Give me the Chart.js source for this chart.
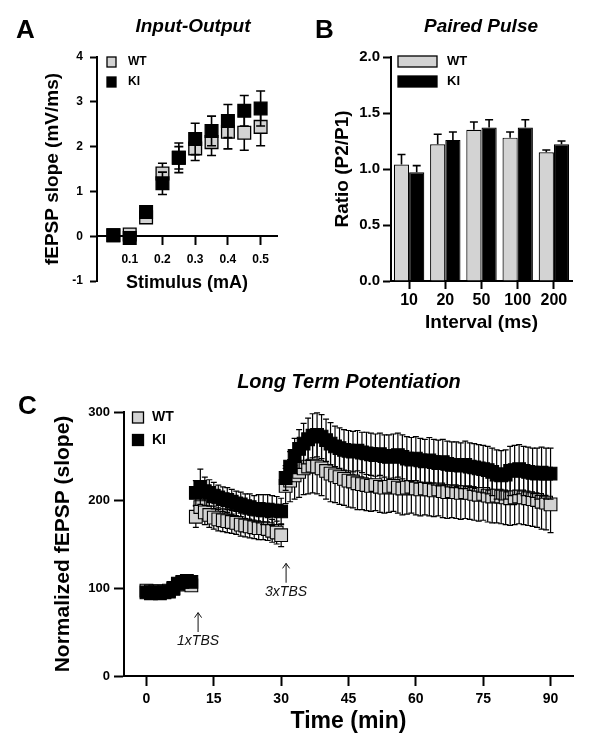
<!DOCTYPE html>
<html><head><meta charset="utf-8">
<script src="https://cdn.jsdelivr.net/npm/chart.js@4.4.1/dist/chart.umd.min.js"></script>
<style>
html,body{margin:0;padding:0;background:#fff;}
body{width:600px;height:750px;position:relative;overflow:hidden;font-family:'Liberation Sans',Arial,sans-serif;}
.box{position:absolute;}
.lbl{position:absolute;line-height:1;white-space:nowrap;color:#000;font-weight:bold;}
.ttl{font-style:italic;text-align:center;width:300px;}
</style></head><body>
<div class="box" style="left:0;top:0;width:300px;height:300px"><canvas id="cA"></canvas></div>
<div class="box" style="left:300px;top:0;width:300px;height:340px"><canvas id="cB"></canvas></div>
<div class="box" style="left:0;top:360px;width:600px;height:390px"><canvas id="cC"></canvas></div>
<div class="lbl" style="left:16px;top:16px;font-size:26px">A</div>
<div class="lbl ttl" style="left:43px;top:16px;font-size:19px">Input-Output</div>
<div class="lbl" style="left:315px;top:16px;font-size:26px">B</div>
<div class="lbl ttl" style="left:331px;top:16px;font-size:19px">Paired Pulse</div>
<div class="lbl" style="left:18px;top:392px;font-size:26px">C</div>
<div class="lbl ttl" style="left:199px;top:371px;font-size:20px">Long Term Potentiation</div>
<script>
// ---------- Panel A: Input-Output ----------
const aStim   = [0.05, 0.1, 0.15, 0.2, 0.25, 0.3, 0.35, 0.4, 0.45, 0.5];
const aWT     = [0.02, 0.04, 0.42, 1.40, 1.75, 1.96, 2.10, 2.33, 2.31, 2.44];
const aWTerr  = [0.03, 0.05, 0.08, 0.23, 0.25, 0.27, 0.30, 0.38, 0.39, 0.42];
const aKI     = [0.02, -0.04, 0.54, 1.18, 1.75, 2.17, 2.35, 2.57, 2.80, 2.85];
const aKIerr  = [0.03, 0.05, 0.08, 0.25, 0.33, 0.35, 0.33, 0.37, 0.34, 0.39];
const aXTicks = [0.1, 0.2, 0.3, 0.4, 0.5];

// ---------- Panel B: Paired Pulse ----------
const bIntervals = ['10', '20', '50', '100', '200'];
const bWT    = [1.04, 1.22, 1.35, 1.28, 1.15];
const bWTerr = [0.09, 0.09, 0.07, 0.05, 0.02];
const bKI    = [0.97, 1.26, 1.37, 1.37, 1.22];
const bKIerr = [0.06, 0.07, 0.07, 0.07, 0.03];

// ---------- Panel C: Long Term Potentiation ----------
const ltpTime = [0,1,2,3,4,5,6,7,8,9,10,
  11,12,13,14,15,16,17,18,19,20,21,22,23,24,25,26,27,28,29,30,
  31,32,33,34,35,36,37,38,39,40,41,42,43,44,45,46,47,48,49,50,
  51,52,53,54,55,56,57,58,59,60,61,62,63,64,65,66,67,68,69,70,
  71,72,73,74,75,76,77,78,79,80,81,82,83,84,85,86,87,88,89,90];
const ltpWT = [97,96,96,96,96,97,100,104,106,106,103,
  181,192,186,183,180,178,177,176,175,174,172,171,170,169,168,168,167,165,163,160,
  216,222,228,232,236,238,239,238,236,233,
  230,228,226,224,222,221,219,218,217,216,
  217,215,214,215,216,214,213,214,215,213,
  212,213,212,211,212,210,209,210,209,208,
  209,208,207,206,207,205,204,205,204,203,
  202,203,204,203,202,201,200,198,197,195];
const ltpWTerr = [4,4,4,4,4,4,4,5,5,5,5,
  12,14,14,14,13,13,13,13,13,13,13,13,13,13,13,13,13,13,13,13,
  20,24,27,29,30,31,31,31,31,32,
  32,31,31,30,30,30,30,29,29,29,
  29,29,29,29,29,29,30,30,30,30,
  30,30,30,30,30,30,30,30,30,30,
  30,30,30,30,30,30,30,31,31,31,
  31,31,31,31,31,31,31,31,31,32];
const ltpKI = [95,94,95,94,95,96,99,105,107,108,107,
  208,215,210,208,205,203,201,200,198,196,195,193,192,190,190,189,189,188,188,187,
  225,238,250,258,264,269,273,274,272,268,
  264,261,259,257,256,255,256,254,253,252,
  251,252,250,249,250,251,249,247,246,247,
  245,244,245,243,242,243,241,240,240,239,
  240,238,237,236,235,234,232,229,228,229,
  233,234,235,233,232,231,230,231,230,230];
const ltpKIerr = [4,4,4,4,4,4,4,5,5,5,5,
  14,20,16,15,15,14,14,14,14,14,14,14,15,15,16,17,17,17,16,15,
  14,17,20,22,23,24,25,25,25,24,
  24,23,23,23,23,23,23,23,24,24,
  24,24,24,25,25,25,25,25,25,25,
  25,25,26,26,26,26,26,26,26,26,
  27,27,27,27,27,27,27,28,28,28,
  28,28,28,28,28,28,29,29,29,29];
const cXTicks = [0, 15, 30, 45, 60, 75, 90];

const WT_FILL = '#d3d3d3';
const KI_FILL = '#000000';
const FONT = "'Liberation Sans', Arial, sans-serif";

Chart.defaults.font.family = FONT;
Chart.defaults.font.weight = 'bold';
Chart.defaults.color = '#000';
Chart.defaults.animation = false;
Chart.defaults.plugins.legend.display = false;
Chart.defaults.plugins.tooltip.enabled = false;

function drawErrors(chart, args) {
  const ds = chart.data.datasets[args.index];
  if (!ds.errors) return;
  const meta = args.meta;
  const yScale = chart.scales[meta.yAxisID];
  const ctx = chart.ctx;
  ctx.save();
  ctx.strokeStyle = '#000';
  ctx.lineWidth = ds.errLineWidth || 1.5;
  meta.data.forEach((el, i) => {
    const d = ds.data[i];
    const v = (typeof d === 'object') ? d.y : d;
    const e = ds.errors[i];
    const x = el.x;
    const yTop = yScale.getPixelForValue(v + e);
    const yBot = ds.errorUpOnly ? yScale.getPixelForValue(v) : yScale.getPixelForValue(v - e);
    const c = ds.capHalf || 4;
    ctx.beginPath();
    ctx.moveTo(x, yBot); ctx.lineTo(x, yTop);
    ctx.moveTo(x - c, yTop); ctx.lineTo(x + c, yTop);
    if (!ds.errorUpOnly) { ctx.moveTo(x - c, yBot); ctx.lineTo(x + c, yBot); }
    ctx.stroke();
  });
  ctx.restore();
}
const errorBarPlugin = {
  id: 'errorBars',
  beforeDatasetDraw(chart, args) { const ds = chart.data.datasets[args.index]; if (!ds.errAfter) drawErrors(chart, args); },
  afterDatasetDraw(chart, args) { const ds = chart.data.datasets[args.index]; if (ds.errAfter) drawErrors(chart, args); }
};

const boxLegendPlugin = {
  id: 'boxLegend',
  afterDraw(chart, args, o) {
    if (!o || o.x === undefined) return;
    const ctx = chart.ctx;
    ctx.save();
    chart.data.datasets.forEach((ds, i) => {
      const cy = o.y + i * o.gap;
      ctx.fillStyle = ds.backgroundColor;
      ctx.strokeStyle = '#000';
      ctx.lineWidth = o.lw;
      ctx.fillRect(o.x, cy - o.h / 2, o.w, o.h);
      ctx.strokeRect(o.x, cy - o.h / 2, o.w, o.h);
      ctx.fillStyle = '#000';
      ctx.font = 'bold ' + o.size + 'px ' + FONT;
      ctx.textAlign = 'left';
      ctx.textBaseline = 'middle';
      ctx.fillText(ds.label, o.tx, cy);
    });
    ctx.restore();
  }
};

const tbsPlugin = {
  id: 'tbsMarks',
  afterDatasetsDraw(chart, args, o) {
    if (!o || !o.marks) return;
    const ctx = chart.ctx, xs = chart.scales.x, ys = chart.scales.y;
    o.marks.forEach(m => {
      const px = xs.getPixelForValue(m.x);
      const yTip = ys.getPixelForValue(m.tip), yTail = ys.getPixelForValue(m.tail), yText = ys.getPixelForValue(m.textY);
      ctx.save();
      ctx.strokeStyle = '#111'; ctx.lineWidth = 1;
      ctx.beginPath();
      ctx.moveTo(px, yTail); ctx.lineTo(px, yTip);
      ctx.moveTo(px - 3.5, yTip + 5); ctx.lineTo(px, yTip); ctx.lineTo(px + 3.5, yTip + 5);
      ctx.stroke();
      ctx.font = 'italic 14px ' + FONT;
      ctx.fillStyle = '#111'; ctx.textAlign = 'center'; ctx.textBaseline = 'middle';
      ctx.fillText(m.text, px, yText);
      ctx.restore();
    });
  }
};

function axisStyle(tickLen) {
  return {
    border: { display: true, color: '#000', width: 2 },
    grid: { display: true, drawOnChartArea: false, drawTicks: true, tickLength: tickLen, tickWidth: 2, tickColor: '#000', offset: false }
  };
}

// ---- Chart A ----
new Chart(document.getElementById('cA'), {
  type: 'scatter',
  data: { datasets: [
    { label: 'WT', order: 2, xAxisID: 'x', yAxisID: 'y', data: aStim.map((x, i) => ({ x, y: aWT[i] })), errors: aWTerr,
      backgroundColor: WT_FILL, borderColor: '#000', borderWidth: 1.3, pointStyle: 'rect', pointRadius: 9, capHalf: 4.5, errLineWidth: 1.6 },
    { label: 'KI', order: 1, xAxisID: 'x', yAxisID: 'y', data: aStim.map((x, i) => ({ x, y: aKI[i] })), errors: aKIerr,
      backgroundColor: KI_FILL, borderColor: '#000', borderWidth: 1.3, pointStyle: 'rect', pointRadius: 9, capHalf: 4.5, errLineWidth: 1.6 }
  ]},
  options: {
    responsive: true, maintainAspectRatio: false,
    layout: { padding: { left: 37, top: 57, right: 23, bottom: 0 } },
    scales: {
      x: { type: 'linear', position: { y: 0 }, min: 0, max: 0.55,
        afterBuildTicks: s => { s.ticks = aXTicks.map(v => ({ value: v })); },
        ticks: { font: { size: 12 }, padding: 8, callback: v => String(v) }, ...axisStyle(8) },
      x2: { type: 'linear', position: 'bottom', grid: { display: false }, border: { display: false }, ticks: { display: false },
        title: { display: true, text: 'Stimulus (mA)', font: { size: 18 }, padding: { top: 0, bottom: 6 } },
        afterFit: s => { s.height = 19; } },
      y: { min: -1, max: 4, ticks: { stepSize: 1, font: { size: 12 }, padding: 7 },
        title: { display: true, text: 'fEPSP slope (mV/ms)', font: { size: 19 }, padding: { top: 4, bottom: 0 } },
        afterFit: s => { s.width = 60; }, ...axisStyle(7) }
    },
    plugins: { boxLegend: { x: 107, y: 62, gap: 20, w: 9, h: 10, lw: 1.3, tx: 128, size: 12 } }
  },
  plugins: [errorBarPlugin, boxLegendPlugin]
});

// ---- Chart B ----
new Chart(document.getElementById('cB'), {
  type: 'bar',
  data: { labels: bIntervals, datasets: [
    { label: 'WT', data: bWT, errors: bWTerr, errorUpOnly: true, errAfter: true, backgroundColor: WT_FILL, borderColor: '#000', borderWidth: 1.2, capHalf: 4, errLineWidth: 1.6 },
    { label: 'KI', data: bKI, errors: bKIerr, errorUpOnly: true, errAfter: true, backgroundColor: KI_FILL, borderColor: '#000', borderWidth: 1.2, capHalf: 4, errLineWidth: 1.6 }
  ]},
  options: {
    responsive: true, maintainAspectRatio: false,
    layout: { padding: { left: 27, top: 57, right: 28, bottom: 0 } },
    datasets: { bar: { categoryPercentage: 0.84, barPercentage: 1.0 } },
    scales: {
      x: { ticks: { font: { size: 16 }, padding: 2 },
        title: { display: true, text: 'Interval (ms)', font: { size: 19 }, padding: { top: 0, bottom: 6 } },
        afterFit: s => { s.height = 59; }, ...axisStyle(8) },
      y: { min: 0, max: 2, ticks: { stepSize: 0.5, font: { size: 15 }, padding: 3, callback: v => Number(v).toFixed(1) },
        title: { display: true, text: 'Ratio (P2/P1)', font: { size: 19 }, padding: { top: 4, bottom: 0 } },
        afterFit: s => { s.width = 64; }, ...axisStyle(8) }
    },
    plugins: { boxLegend: { x: 98, y: 61.5, gap: 20, w: 39, h: 11, lw: 1.3, tx: 147, size: 13 } }
  },
  plugins: [errorBarPlugin, boxLegendPlugin]
});

// ---- Chart C ----
new Chart(document.getElementById('cC'), {
  type: 'scatter',
  data: { datasets: [
    { label: 'WT', order: 2, data: ltpTime.map((x, i) => ({ x, y: ltpWT[i] })), errors: ltpWTerr,
      backgroundColor: WT_FILL, borderColor: '#000', borderWidth: 1.1, pointStyle: 'rect', pointRadius: 9, capHalf: 3, errLineWidth: 1.2 },
    { label: 'KI', order: 1, data: ltpTime.map((x, i) => ({ x, y: ltpKI[i] })), errors: ltpKIerr,
      backgroundColor: KI_FILL, borderColor: '#000', borderWidth: 1.1, pointStyle: 'rect', pointRadius: 9, capHalf: 3, errLineWidth: 1.2 }
  ]},
  options: {
    responsive: true, maintainAspectRatio: false,
    layout: { padding: { left: 48, top: 52, right: 27, bottom: 0 } },
    scales: {
      x: { type: 'linear', min: -5, max: 95,
        afterBuildTicks: s => { s.ticks = cXTicks.map(v => ({ value: v })); },
        ticks: { font: { size: 14 }, padding: 5 },
        title: { display: true, text: 'Time (min)', font: { size: 23 }, padding: { top: 0, bottom: 15 } },
        afterFit: s => { s.height = 74; }, ...axisStyle(10) },
      y: { min: 0, max: 300, ticks: { stepSize: 100, font: { size: 13 }, padding: 4 },
        title: { display: true, text: 'Normalized fEPSP (slope)', font: { size: 21 }, padding: { top: 3, bottom: 0 } },
        afterFit: s => { s.width = 76; }, ...axisStyle(10) }
    },
    plugins: {
      boxLegend: { x: 132.5, y: 57.5, gap: 22.5, w: 11, h: 11, lw: 1.3, tx: 152, size: 14 },
      tbsMarks: { marks: [
        { x: 11.5, tip: 72, tail: 50, textY: 40, text: '1xTBS' },
        { x: 31.1, tip: 128, tail: 106, textY: 95, text: '3xTBS' }
      ] }
    }
  },
  plugins: [errorBarPlugin, boxLegendPlugin, tbsPlugin]
});
</script>
</body></html>
